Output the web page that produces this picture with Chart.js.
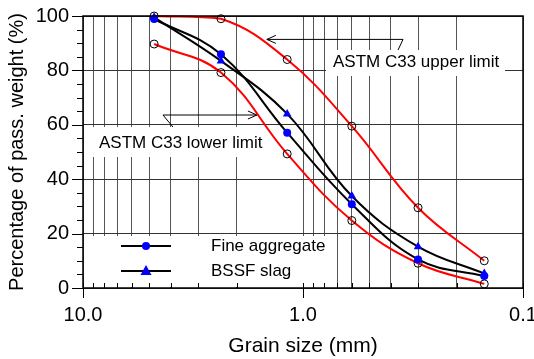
<!DOCTYPE html>
<html>
<head>
<meta charset="utf-8">
<script src="https://cdn.jsdelivr.net/npm/chart.js@4.4.1/dist/chart.umd.min.js"></script>
<style>
  html, body { margin: 0; padding: 0; background: #fff; }
  #wrap { width: 534px; height: 359px; }
</style>
</head>
<body>
<div id="wrap"><canvas id="chart"></canvas></div>
<script>
// sieve sizes (mm) and percent passing
const grainSize = [4.75, 2.36, 1.18, 0.6, 0.3, 0.15];
const upperLimit = [100, 99, 84, 59.5, 29.5, 10];
const lowerLimit = [89.7, 79.2, 49.3, 24.8, 9.1, 1.5];
const fineAggregate = [98.9, 85.9, 57.1, 30.8, 10.5, 4.4];
const bssfSlag = [99.5, 83.5, 64, 33.8, 15.2, 5.3];

// axis ticks
const xTicks = [10, 9, 8, 7, 6, 5, 4, 3, 2, 1, 0.9, 0.8, 0.7, 0.6, 0.5, 0.4, 0.3, 0.2, 0.1];
const xMajor = [10, 1, 0.1];
const yTicks = [0, 20, 40, 60, 80, 100];

const FONT = 'Arial, "Liberation Sans", sans-serif';

function pts(ys) {
    return grainSize.map((x, i) => ({ x: x, y: ys[i] }));
}

// white label boxes, leader lines and the legend, drawn under the curves
const notesPlugin = {
    id: 'notes',
    beforeDatasetsDraw(chart) {
        const ctx = chart.ctx;
        const a = chart.chartArea;
        const xs = chart.scales.x, ys = chart.scales.y;
        ctx.save();
        ctx.fillStyle = '#fff';
        // upper limit label box
        ctx.fillRect(326, 50, 179, 26);
        // lower limit label box
        ctx.fillRect(a.left + 1, 127, 187, 30);
        // legend box
        ctx.fillRect(a.left + 1, 236, 245, a.bottom - 237);

        ctx.fillStyle = '#000';
        ctx.font = '17px ' + FONT;
        ctx.textBaseline = 'middle';
        ctx.textAlign = 'left';
        ctx.fillText('ASTM C33 upper limit', 333, 62);
        ctx.fillText('ASTM C33 lower limit', 99, 143);

        ctx.strokeStyle = '#000';
        ctx.lineWidth = 1;
        // upper leader: arrow pointing left to the red upper curve
        let yU = ys.getPixelForValue(91.4);
        let x1 = xs.getPixelForValue(1.46), x2 = xs.getPixelForValue(0.351);
        ctx.beginPath();
        ctx.moveTo(x2, yU); ctx.lineTo(x1, yU);
        ctx.moveTo(x2, yU); ctx.lineTo(x2 - 5, 50);
        ctx.moveTo(x1 + 9, yU - 4); ctx.lineTo(x1, yU); ctx.lineTo(x1 + 9, yU + 4);
        ctx.stroke();
        // lower leader: arrow pointing right to the red lower curve
        let yL = ys.getPixelForValue(63.6);
        x1 = xs.getPixelForValue(4.33); x2 = xs.getPixelForValue(1.62);
        ctx.beginPath();
        ctx.moveTo(x1, yL); ctx.lineTo(x2, yL);
        ctx.moveTo(x1, yL); ctx.lineTo(x1 + 10, 127);
        ctx.moveTo(x2 - 9, yL - 4); ctx.lineTo(x2, yL); ctx.lineTo(x2 - 9, yL + 4);
        ctx.stroke();

        // legend entries
        const rows = [
            { y: 246, label: 'Fine aggregate', shape: 'circle' },
            { y: 271, label: 'BSSF slag', shape: 'triangle' }
        ];
        rows.forEach(r => {
            ctx.strokeStyle = '#000';
            ctx.lineWidth = 2;
            ctx.beginPath();
            ctx.moveTo(121, r.y); ctx.lineTo(171, r.y);
            ctx.stroke();
            ctx.fillStyle = '#0000ff';
            ctx.beginPath();
            if (r.shape === 'circle') {
                ctx.arc(146, r.y, 4, 0, Math.PI * 2);
            } else {
                ctx.moveTo(146, r.y - 6); ctx.lineTo(151.5, r.y + 4); ctx.lineTo(140.5, r.y + 4);
                ctx.closePath();
            }
            ctx.fill();
            ctx.fillStyle = '#000';
            ctx.fillText(r.label, 211, r.y);
        });
        ctx.restore();
    },
    afterDraw(chart) {
        const ctx = chart.ctx;
        const a = chart.chartArea;
        const xs = chart.scales.x, ys = chart.scales.y;
        ctx.save();
        ctx.strokeStyle = '#000';
        ctx.lineWidth = 1;
        ctx.beginPath();
        // y ticks, minor every 5
        for (let v = 0; v <= 100; v += 5) {
            const y = Math.round(ys.getPixelForValue(v)) + 0.5;
            const len = yTicks.includes(v) ? 11 : 6;
            ctx.moveTo(a.left - len, y); ctx.lineTo(a.left, y);
        }
        // x ticks, minor inward, major both sides
        xTicks.forEach(v => {
            const x = Math.round(xs.getPixelForValue(v)) + 0.5;
            if (xMajor.includes(v)) {
                ctx.moveTo(x, a.bottom - 5); ctx.lineTo(x, a.bottom + 10);
            } else {
                ctx.moveTo(x, a.bottom - 5); ctx.lineTo(x, a.bottom);
            }
        });
        ctx.stroke();
        // frame
        ctx.lineWidth = 1.5;
        ctx.strokeRect(a.left, a.top, a.right - a.left, a.bottom - a.top);
        ctx.restore();
    }
};

const ctx = document.getElementById('chart').getContext('2d');
new Chart(ctx, {
    type: 'scatter',
    data: {
        datasets: [
            {
                label: 'Fine aggregate',
                data: pts(fineAggregate),
                showLine: true,
                tension: 0.4,
                borderColor: '#000',
                borderWidth: 2,
                pointStyle: 'circle',
                pointRadius: 4,
                pointBackgroundColor: '#0000ff',
                pointBorderColor: '#0000ff',
                pointBorderWidth: 0
            },
            {
                label: 'BSSF slag',
                data: pts(bssfSlag),
                showLine: true,
                tension: 0.4,
                borderColor: '#000',
                borderWidth: 2,
                pointStyle: 'triangle',
                pointRadius: 5,
                pointBackgroundColor: '#0000ff',
                pointBorderColor: '#0000ff',
                pointBorderWidth: 0
            },
            {
                label: 'ASTM C33 upper limit',
                data: pts(upperLimit),
                showLine: true,
                tension: 0.4,
                borderColor: '#ff0000',
                borderWidth: 2,
                pointRadius: 4,
                pointBackgroundColor: 'rgba(0,0,0,0)',
                pointBorderColor: '#000',
                pointBorderWidth: 1
            },
            {
                label: 'ASTM C33 lower limit',
                data: pts(lowerLimit),
                showLine: true,
                tension: 0.4,
                borderColor: '#ff0000',
                borderWidth: 2,
                pointRadius: 4,
                pointBackgroundColor: 'rgba(0,0,0,0)',
                pointBorderColor: '#000',
                pointBorderWidth: 1
            }
        ]
    },
    options: {
        responsive: true,
        maintainAspectRatio: false,
        animation: false,
        clip: false,
        layout: { padding: { top: 16, right: 11, left: 0, bottom: 0 } },
        plugins: {
            legend: { display: false },
            tooltip: { enabled: false }
        },
        scales: {
            x: {
                type: 'logarithmic',
                reverse: true,
                min: 0.1,
                max: 10,
                afterBuildTicks: (scale) => {
                    scale.ticks = xTicks.map(v => ({ value: v }));
                },
                afterFit: (scale) => {
                    scale.height = 71;
                    scale.paddingLeft = 0;
                    scale.paddingRight = 0;
                },
                border: { display: false },
                grid: { color: '#555', lineWidth: 1, drawTicks: false },
                ticks: {
                    autoSkip: false,
                    maxRotation: 0,
                    padding: 15,
                    color: '#000',
                    font: { family: FONT, size: 20 },
                    callback: (v) => xMajor.includes(v) ? v.toFixed(1) : ''
                },
                title: {
                    display: true,
                    text: 'Grain size (mm)',
                    color: '#000',
                    font: { family: FONT, size: 21 },
                    padding: { top: 5, bottom: 0 }
                }
            },
            y: {
                min: 0,
                max: 100,
                afterBuildTicks: (scale) => {
                    scale.ticks = yTicks.map(v => ({ value: v }));
                },
                afterFit: (scale) => {
                    scale.width = 83;
                    scale.paddingTop = 0;
                    scale.paddingBottom = 0;
                },
                border: { display: false },
                grid: { color: '#333', lineWidth: 1, drawTicks: false },
                ticks: {
                    padding: 14,
                    color: '#000',
                    font: { family: FONT, size: 20 }
                },
                title: {
                    display: true,
                    text: 'Percentage of pass. weight (%)',
                    color: '#000',
                    font: { family: FONT, size: 20 },
                    padding: { top: 5, bottom: 0 }
                }
            }
        }
    },
    plugins: [notesPlugin]
});
</script>
</body>
</html>
